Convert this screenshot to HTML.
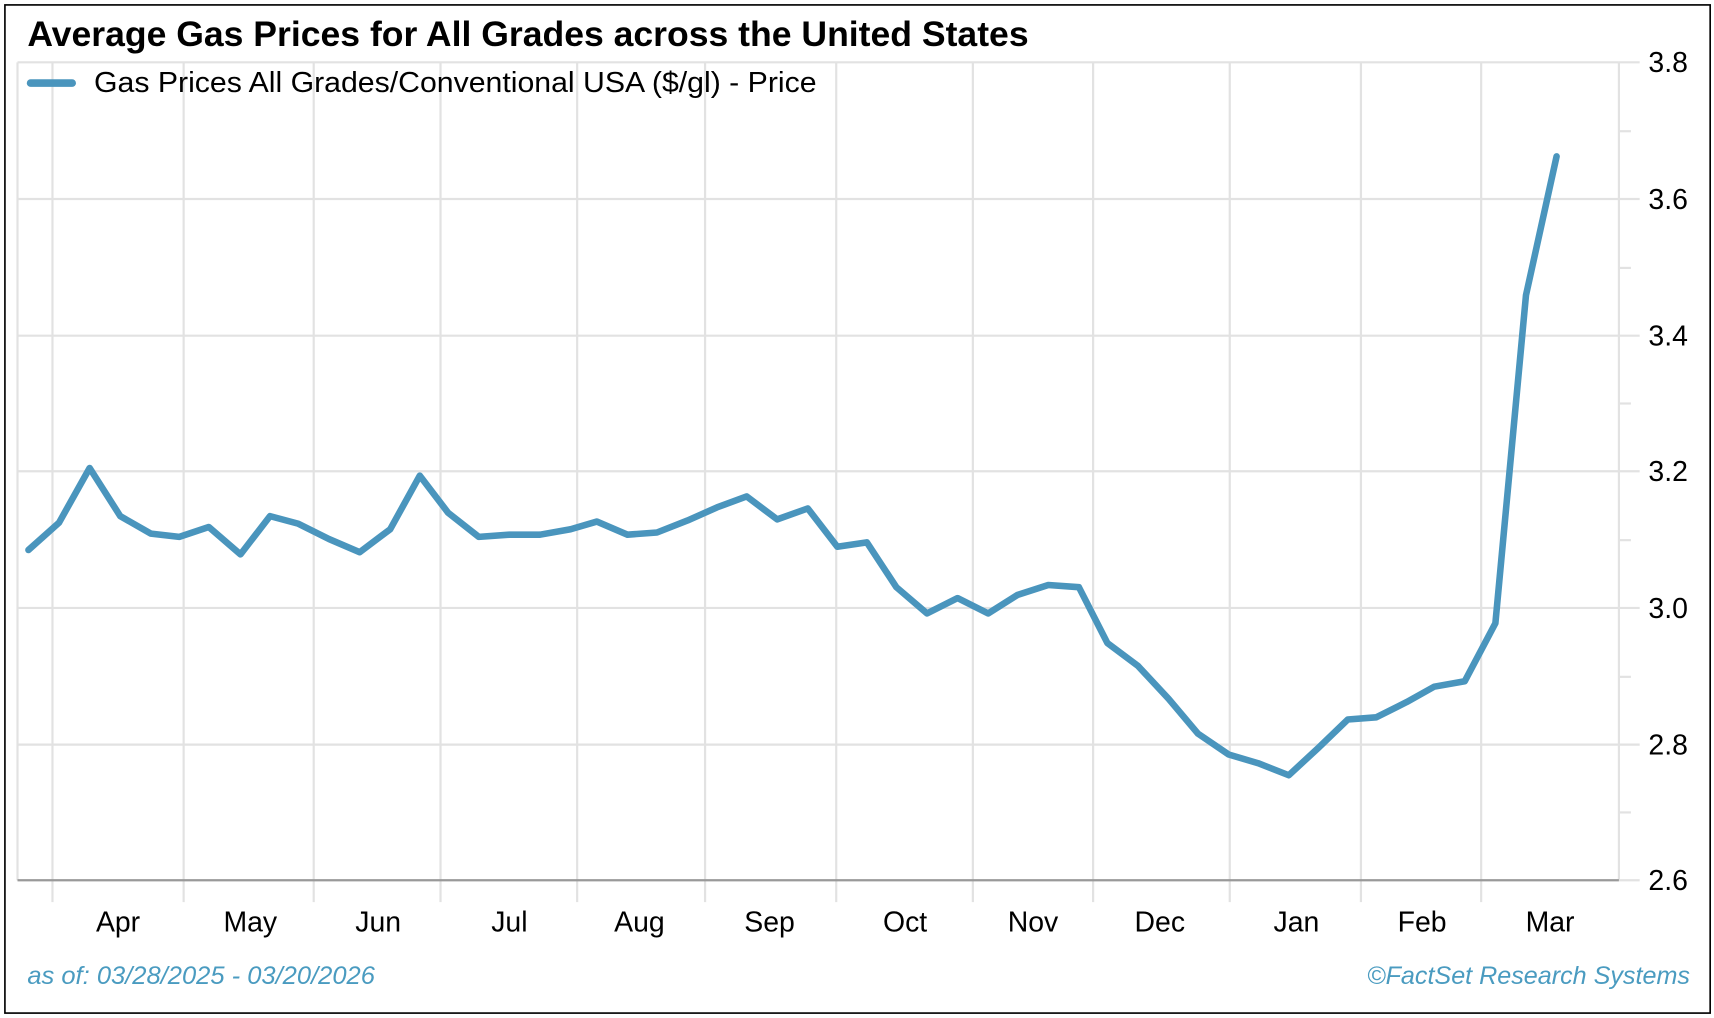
<!DOCTYPE html>
<html><head><style>html,body{margin:0;padding:0;background:#fff}svg{display:block}</style></head>
<body>
<svg width="1714" height="1018" viewBox="0 0 1568 931" preserveAspectRatio="none" xmlns="http://www.w3.org/2000/svg" font-family="Liberation Sans, Arial, sans-serif">
<rect x="4.5" y="4.5" width="1560" height="922" fill="#fff" stroke="#000" stroke-width="1.5"/>
<g stroke="#e2e2e2" stroke-width="2">
<line x1="16" y1="57" x2="1481" y2="57"/>
<line x1="16" y1="182" x2="1481" y2="182"/>
<line x1="16" y1="307" x2="1481" y2="307"/>
<line x1="16" y1="431" x2="1481" y2="431"/>
<line x1="16" y1="556" x2="1481" y2="556"/>
<line x1="16" y1="681" x2="1481" y2="681"/>
<line x1="16" y1="57" x2="16" y2="805"/>
<line x1="1481" y1="57" x2="1481" y2="805"/>
<line x1="48" y1="57" x2="48" y2="825"/><line x1="168" y1="57" x2="168" y2="825"/><line x1="287" y1="57" x2="287" y2="825"/><line x1="403" y1="57" x2="403" y2="825"/><line x1="528" y1="57" x2="528" y2="825"/><line x1="645" y1="57" x2="645" y2="825"/><line x1="765" y1="57" x2="765" y2="825"/><line x1="890" y1="57" x2="890" y2="825"/><line x1="1000" y1="57" x2="1000" y2="825"/><line x1="1125" y1="57" x2="1125" y2="825"/><line x1="1245" y1="57" x2="1245" y2="825"/><line x1="1355" y1="57" x2="1355" y2="825"/>
<line x1="1481" y1="57" x2="1500" y2="57"/><line x1="1481" y1="120" x2="1492" y2="120"/><line x1="1481" y1="182" x2="1500" y2="182"/><line x1="1481" y1="245" x2="1492" y2="245"/><line x1="1481" y1="307" x2="1500" y2="307"/><line x1="1481" y1="369" x2="1492" y2="369"/><line x1="1481" y1="431" x2="1500" y2="431"/><line x1="1481" y1="494" x2="1492" y2="494"/><line x1="1481" y1="556" x2="1500" y2="556"/><line x1="1481" y1="619" x2="1492" y2="619"/><line x1="1481" y1="681" x2="1500" y2="681"/><line x1="1481" y1="743" x2="1492" y2="743"/><line x1="1481" y1="805" x2="1500" y2="805"/>
</g>
<line x1="16" y1="805" x2="1481" y2="805" stroke="#999" stroke-width="2"/>
<g font-size="26" fill="#000">
<text x="1508" y="66">3.8</text><text x="1508" y="191">3.6</text><text x="1508" y="316">3.4</text><text x="1508" y="440">3.2</text><text x="1508" y="565">3.0</text><text x="1508" y="690">2.8</text><text x="1508" y="814">2.6</text>
</g>
<g font-size="26" fill="#000" text-anchor="middle">
<text x="108" y="852">Apr</text><text x="229" y="852">May</text><text x="346" y="852">Jun</text><text x="466" y="852">Jul</text><text x="585" y="852">Aug</text><text x="704" y="852">Sep</text><text x="828" y="852">Oct</text><text x="945" y="852">Nov</text><text x="1061" y="852">Dec</text><text x="1186" y="852">Jan</text><text x="1301" y="852">Feb</text><text x="1418" y="852">Mar</text>
</g>
<polyline fill="none" stroke="#4a95bd" stroke-width="6" stroke-linejoin="round" stroke-linecap="round" points="26,503 54,478 82,428 110,472 138,488 164,491 191,482 220,507 247,472 273,479 301,493 329,505 357,484 384,435 410,469 438,491 466,489 494,489 522,484 546,477 574,489 601,487 629,476 656,464 683,454 711,475 739,465 766,500 793,496 820,537 848,561 876,547 904,561 931,544 959,535 987,537 1013,588 1041,609 1069,639 1096,671 1124,690 1151,698 1179,709 1206,684 1233,658 1259,656 1287,642 1312,628 1340,623 1368,570 1396,270 1424,143"/>
<text x="25" y="42" font-size="32" font-weight="bold" fill="#000" textLength="916" lengthAdjust="spacingAndGlyphs">Average Gas Prices for All Grades across the United States</text>
<line x1="28" y1="76" x2="66" y2="76" stroke="#4a95bd" stroke-width="7" stroke-linecap="round"/>
<text x="86" y="84" font-size="26" fill="#000" textLength="661" lengthAdjust="spacingAndGlyphs">Gas Prices All Grades/Conventional USA ($/gl) - Price</text>
<text x="25" y="900" font-size="23" font-style="italic" fill="#4a9bc0" textLength="318" lengthAdjust="spacingAndGlyphs">as of: 03/28/2025 - 03/20/2026</text>
<text x="1546" y="900" font-size="23" font-style="italic" fill="#4a9bc0" text-anchor="end">©FactSet Research Systems</text>
</svg>
</body></html>
